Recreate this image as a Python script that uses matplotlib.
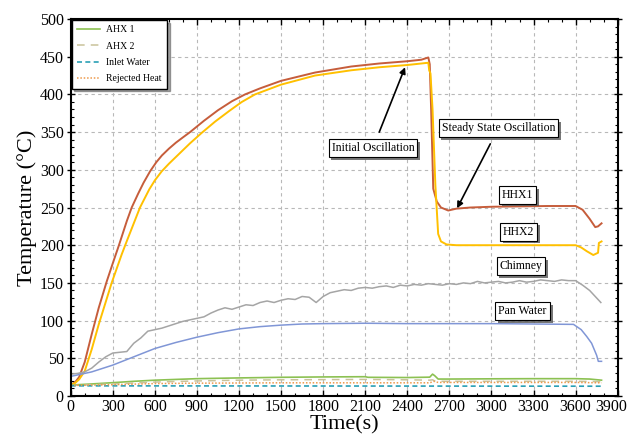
import numpy as np
import matplotlib
matplotlib.use("Agg")
import matplotlib.pyplot as plt
import matplotlib.patheffects as pe
from matplotlib.ticker import MultipleLocator, FuncFormatter

plt.rcParams['font.family'] = ['Liberation Serif', 'DejaVu Serif']

# HHX1 / HHX2 temperatures
t_hhx1 = [0, 30, 60, 100, 150, 200, 257, 300, 344, 400, 435, 480, 520, 566, 610, 650, 700,
          750, 800, 851, 950, 1050, 1150, 1243, 1350, 1500, 1742, 2000, 2200, 2400, 2500,
          2550, 2560, 2570, 2585, 2610, 2640, 2692, 2750, 2850, 3000, 3200, 3400, 3600,
          3650, 3700, 3740, 3760, 3785]
v_hhx1 = [15, 18, 25, 45, 82, 117, 152, 176, 200, 232, 250, 268, 283, 298, 310, 319, 328,
          336, 343, 350, 365, 379, 391, 400, 408, 418, 429, 437, 441, 444, 446,
          449, 440, 380, 275, 258, 250, 246, 248.5, 250, 251, 251.5, 252, 252,
          247, 235, 224, 225, 229]

t_hhx2 = [0, 30, 60, 100, 150, 200, 292, 364, 399, 494, 560, 600, 649, 700, 750, 800,
          850, 934, 1030, 1130, 1220, 1314, 1500, 1742, 2000, 2200, 2400, 2500, 2550,
          2556, 2565, 2580, 2600, 2620, 2640, 2680, 2750, 3000, 3300, 3600, 3640, 3680,
          3726, 3760, 3766, 3785]
v_hhx2 = [15, 17, 22, 33, 62, 95, 150, 188, 205, 250, 274, 286, 298, 308, 317, 326,
          335, 349, 364, 378, 390, 400, 413, 425, 432, 436, 439, 441, 442,
          432, 428, 380, 280, 215, 205, 201, 200, 200, 200, 200, 197, 192,
          187, 190, 203, 205]

# Chimney (noisy)
t_chim = [0, 50, 100, 150, 200, 250, 300, 350, 400, 450, 500, 550, 600, 650, 700, 750,
          800, 850, 900, 950, 1000, 1050, 1100, 1150, 1200, 1250, 1300, 1350, 1400, 1450,
          1500, 1550, 1600, 1650, 1700, 1750, 1800, 1850, 1900, 1950, 2000, 2050, 2100,
          2150, 2200, 2250, 2300, 2350, 2400, 2450, 2500, 2550, 2600, 2650, 2700, 2750,
          2800, 2850, 2900, 2950, 3000, 3050, 3100, 3150, 3200, 3250, 3300, 3350, 3400,
          3450, 3500, 3550, 3600, 3650, 3700, 3750, 3780]
v_chim = [29, 30, 32, 37, 45, 52, 57, 58, 59, 70, 77, 86, 88, 90, 93, 96,
          99, 101, 103, 105, 110, 114, 117, 115, 118, 121, 120, 124, 126, 124,
          127, 129, 128, 132, 131, 124, 132, 137, 139, 141, 140, 143, 144,
          143, 145, 146, 144, 147, 146, 148, 147, 149, 148, 147, 149, 148,
          150, 149, 152, 150, 151, 152, 150, 151, 153, 151, 152, 154, 153,
          152, 154, 153, 153, 147, 140, 130, 124]

# Pan water
t_pan = [0, 150, 300, 450, 600, 750, 900, 1050, 1200, 1350, 1500, 1650, 1800, 2100,
         2400, 2700, 3000, 3300, 3585, 3640, 3679, 3714, 3750, 3762, 3785]
v_pan = [26, 32, 41, 52, 63, 71, 78, 84, 89, 92, 94, 95.5, 96, 96.5,
         96, 96, 96, 95.5, 95, 88, 79, 70, 54, 46, 46]

# AHX 1, AHX 2, inlet water, rejected heat
t_ahx1 = [0, 150, 300, 450, 600, 900, 1200, 1500, 1800, 2100, 2120, 2400, 2560, 2580,
          2595, 2620, 2700, 3000, 3300, 3600, 3700, 3785]
v_ahx1 = [14.5, 16, 17.7, 19.5, 21, 23, 24, 24.8, 25.3, 25.6, 24.8, 24.5, 25, 29,
          27, 22.5, 22.5, 22.8, 23, 23, 22.5, 21]
t_ahx2 = [0, 300, 600, 900, 1200, 1500, 2100, 2400, 2560, 2580, 2600, 2700, 3000, 3600, 3785]
v_ahx2 = [14, 16, 18.5, 20, 21, 21.5, 22, 21.5, 21, 21.5, 19.5, 19.5, 19.5, 19.5, 19]
t_inlet = [0, 3785]
v_inlet = [13.5, 13]
t_rej = [0, 300, 600, 900, 1500, 2100, 2560, 2590, 2620, 3000, 3600, 3785]
v_rej = [14, 15, 16.5, 17, 17.5, 17.5, 17.5, 19.5, 18, 18, 18, 17.5]

x_max = 3900

fig = plt.figure(figsize=(6.29, 4.37), dpi=100)
ax = fig.add_axes([0.1124, 0.0938, 0.8696, 0.8627])

ax.plot(t_hhx1, v_hhx1, color='#c65d3b', lw=1.4)
ax.plot(t_hhx2, v_hhx2, color='#ffc000', lw=1.4)
ax.plot(t_chim, v_chim, color='#a5a5a5', lw=1.1)
ax.plot(t_pan, v_pan, color='#8096d6', lw=1.1)
ax.plot(t_ahx1, v_ahx1, color='#8cc152', lw=1.2, label='AHX 1')
ax.plot(t_ahx2, v_ahx2, color='#c9c29a', lw=1.1, ls=(0, (5, 4)), label='AHX 2')
ax.plot(t_inlet, v_inlet, color='#2a9fb5', lw=1.2, ls=(0, (3, 2)), label='Inlet Water')
ax.plot(t_rej, v_rej, color='#ed9a4c', lw=1.1, ls=(0, (1, 1.2)), label='Rejected Heat')

ax.set_xlim(0, x_max)
ax.set_ylim(0, 500)
ax.xaxis.set_major_locator(MultipleLocator(300))
ax.xaxis.set_minor_locator(MultipleLocator(100))
ax.yaxis.set_major_locator(MultipleLocator(50))
ax.yaxis.set_minor_locator(MultipleLocator(10))
# last x label is drawn by hand a bit to the left so it stays inside the figure
ax.xaxis.set_major_formatter(FuncFormatter(lambda v, p: '' if v >= x_max else f'{v:.0f}'))
ax.grid(True, which='major', color='#b8b8b8', ls=(0, (3, 3)), lw=0.8)
ax.tick_params(which='both', direction='in', top=True, right=True, labelsize=11.5, pad=2)
ax.tick_params(which='major', length=4, width=1)
ax.tick_params(which='minor', length=2.5, width=0.8)
ax.tick_params(axis='y', which='major', direction='inout', length=6)
for s in ax.spines.values():
    s.set_linewidth(1.5)
ax.annotate(f'{x_max}', xy=(x_max, 0), xycoords=('data', 'axes fraction'),
            xytext=(-5, -2), textcoords='offset points', ha='center', va='top',
            fontsize=11.5, annotation_clip=False)

ax.set_xlabel('Time(s)', fontsize=16, labelpad=0)
ax.set_ylabel('Temperature (°C)', fontsize=16, labelpad=2)

leg = ax.legend(loc='upper left', fontsize=7, frameon=True, fancybox=False, shadow=True,
                borderaxespad=0.1, handlelength=2.4, labelspacing=0.75, borderpad=0.55,
                handletextpad=0.6)
leg.get_frame().set_edgecolor('black')
leg.get_frame().set_linewidth(1.0)

box = dict(boxstyle='square,pad=0.25', fc='white', ec='black', lw=0.8)
shadow = [pe.withSimplePatchShadow(offset=(2, -2), shadow_rgbFace='#555555', alpha=0.8)]

def label(text, xy, xytext=None):
    if xytext is None:
        t = ax.text(xy[0], xy[1], text, fontsize=8.5, ha='center', va='center', bbox=box, zorder=5)
    else:
        t = ax.annotate(text, xy=xy, xytext=xytext, fontsize=8.5, ha='center', va='center',
                        bbox=box, zorder=5,
                        arrowprops=dict(arrowstyle='-|>', color='black', lw=1.2,
                                        mutation_scale=9, shrinkA=5, shrinkB=0))
    t.get_bbox_patch().set_path_effects(shadow)

label('Initial Oscillation', (2384, 436), (2155, 329))
label('Steady State Oscillation', (2755, 249), (3049, 355))
label('HHX1', (3186, 267))
label('HHX2', (3193, 218))
label('Chimney', (3211, 172))
label('Pan Water', (3222, 113))

fig.savefig('out.png', dpi=100)
